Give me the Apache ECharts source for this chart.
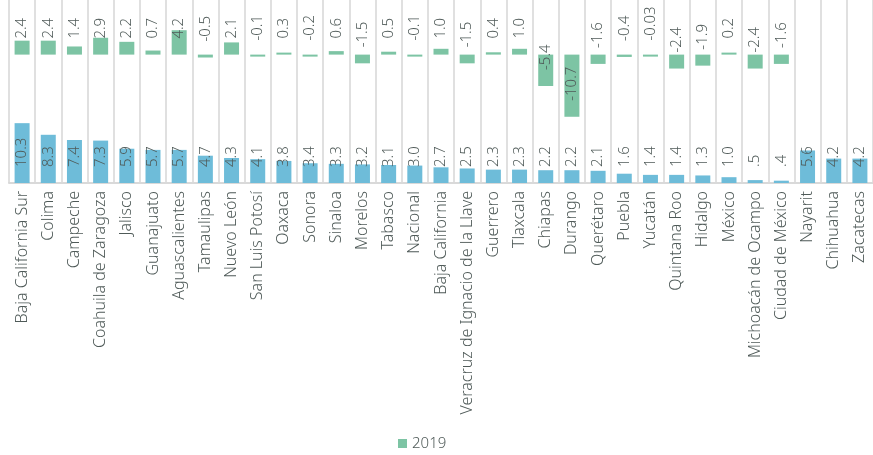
<!DOCTYPE html>
<html>
<head>
<meta charset="utf-8">
<script src="https://cdn.jsdelivr.net/npm/echarts@6/dist/echarts.min.js"></script>
<style>
  html, body { margin: 0; padding: 0; background: #ffffff; }
  #chart { width: 873px; height: 455px; }
</style>
</head>
<body>
<div id="chart"></div>
<script>
// Entidades federativas, ordenadas como en la gráfica
const categories = [
  'Baja California Sur', 'Colima', 'Campeche', 'Coahuila de Zaragoza', 'Jalisco',
  'Guanajuato', 'Aguascalientes', 'Tamaulipas', 'Nuevo León', 'San Luis Potosí',
  'Oaxaca', 'Sonora', 'Sinaloa', 'Morelos', 'Tabasco', 'Nacional',
  'Baja California', 'Veracruz de Ignacio de la Llave', 'Guerrero', 'Tlaxcala',
  'Chiapas', 'Durango', 'Querétaro', 'Puebla', 'Yucatán', 'Quintana Roo',
  'Hidalgo', 'México', 'Michoacán de Ocampo', 'Ciudad de México',
  'Nayarit', 'Chihuahua', 'Zacatecas'
];

// Serie inferior (azul)
const totalValues = [
  10.3, 8.3, 7.4, 7.3, 5.9, 5.7, 5.7, 4.7, 4.3, 4.1,
  3.8, 3.4, 3.3, 3.2, 3.1, 3.0, 2.7, 2.5, 2.3, 2.3,
  2.2, 2.2, 2.1, 1.6, 1.4, 1.4, 1.3, 1.0, 0.5, 0.4,
  5.6, 4.2, 4.2
];

// Serie superior (verde): 2019
const values2019 = [
  2.4, 2.4, 1.4, 2.9, 2.2, 0.7, 4.2, -0.5, 2.1, -0.1,
  0.3, -0.2, 0.6, -1.5, 0.5, -0.1, 1.0, -1.5, 0.4, 1.0,
  -5.4, -10.7, -1.6, -0.4, -0.03, -2.4, -1.9, 0.2, -2.4, -1.6,
  null, null, null
];

const legendLabels = ['2019'];

const textColor = '#4f5a58';
const fontFamily = '"Noto Sans", Roboto, sans-serif';

// "0.5" -> ".5" para la serie azul
function fmtTotal(v) {
  const s = v.toFixed(1);
  return s.startsWith('0.') ? s.slice(1) : s;
}
// un decimal salvo cuando el valor necesita más precisión
function fmt2019(v) {
  const tenth = Math.abs(Math.round(v * 10) - v * 10) < 1e-9;
  return tenth ? v.toFixed(1) : String(v);
}

const valueLabel = {
  show: true,
  position: 'insideBottom',
  distance: 16,
  rotate: 90,
  align: 'left',
  verticalAlign: 'middle',
  color: textColor,
  fontFamily: fontFamily,
  fontWeight: 300,
  fontSize: 15
};

const chart = echarts.init(document.getElementById('chart'), null, { renderer: 'canvas' });

chart.setOption({
  animation: false,
  backgroundColor: '#ffffff',
  textStyle: { fontFamily: fontFamily },
  legend: {
    data: legendLabels,
    left: 393,
    top: 431,
    icon: 'rect',
    itemWidth: 9,
    itemHeight: 9,
    itemGap: 6,
    textStyle: { color: textColor, fontSize: 15, fontWeight: 300, fontFamily: fontFamily }
  },
  grid: { left: 9, top: 0, width: 869.5, height: 183, containLabel: false },
  xAxis: {
    type: 'category',
    data: categories,
    axisLine: { show: true, lineStyle: { color: '#d9d9d9', width: 2 } },
    axisTick: { show: false },
    splitLine: { show: true, interval: 0, lineStyle: { color: '#d6d6d6', width: 1.5 } },
    axisLabel: {
      interval: 0,
      rotate: 90,
      margin: 8,
      color: textColor,
      fontSize: 16,
      fontWeight: 300,
      fontFamily: fontFamily
    }
  },
  yAxis: [
    { type: 'value', min: 0, max: 31.5, show: false, splitLine: { show: false } },
    { type: 'value', min: -22.1, max: 9.4, show: false, splitLine: { show: false } }
  ],
  series: [
    {
      name: 'Total',
      type: 'bar',
      yAxisIndex: 0,
      data: totalValues,
      barWidth: 15,
      barGap: '-100%',
      itemStyle: { color: '#6ebcd9' },
      label: Object.assign({}, valueLabel, {
        formatter: p => fmtTotal(p.value)
      })
    },
    {
      name: '2019',
      type: 'bar',
      yAxisIndex: 1,
      data: values2019,
      barWidth: 15,
      barGap: '-100%',
      barMinHeight: 2,
      itemStyle: { color: '#7dc4a4' },
      label: Object.assign({}, valueLabel, {
        formatter: p => (p.value == null ? '' : fmt2019(p.value))
      })
    }
  ]
});
</script>
</body>
</html>
